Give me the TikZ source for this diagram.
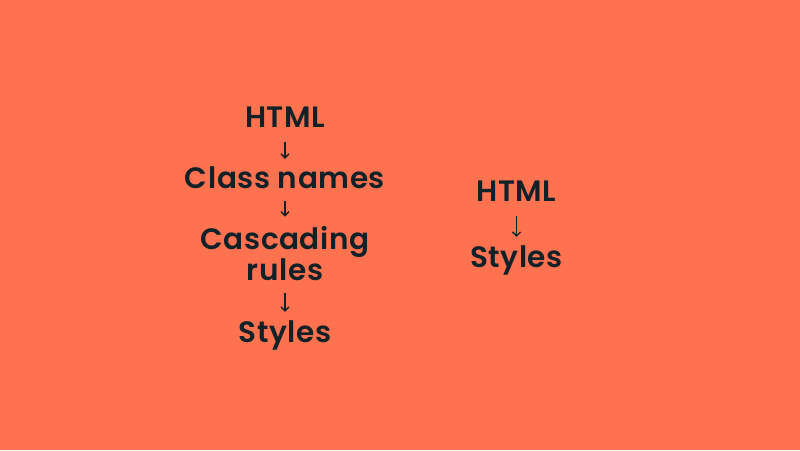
\documentclass[tikz,border=0pt]{standalone}
\usepackage{fontspec}
\setmainfont{Poppins}[BoldFont={Poppins SemiBold},LetterSpace=2]
\usetikzlibrary{arrows.meta}
\definecolor{bgc}{RGB}{255,114,80}
\definecolor{txt}{RGB}{17,33,40}
\begin{document}
\begin{tikzpicture}[x=1pt,y=-1pt,
  lbl/.style={anchor=base,inner sep=0pt,text=txt,font=\fontsize{29.5}{29.5}\selectfont\bfseries,align=center},
  arr/.style={draw=txt,line width=1.4pt,-{Straight Barb[length=4pt,width=8pt,line width=1.4pt]}}]
\fill[bgc] (0,0) rectangle (800,450);
\useasboundingbox (0,0) rectangle (800,450);
\node[lbl] (h1) at (285,127.5) {HTML};
\node[lbl] (c1) at (285,188) {Class names};
\node[lbl] (r1) at (285,249) {Cascading};
\node[lbl] (r2) at (285,280.5) {rules};
\node[lbl] (s1) at (285,342) {Styles};
\node[lbl] (h2) at (516.5,201) {HTML};
\node[lbl] (s2) at (516.5,267) {Styles};
\draw[arr,shorten <=14pt,shorten >=7pt] (h1.south) -- (c1.north);
\draw[arr,shorten <=13pt,shorten >=9pt] (c1.south) -- (r1.north);
\draw[arr,shorten <=12pt,shorten >=8pt] (r2.south) -- (s1.north);
\draw[arr,shorten <=15pt,shorten >=8pt] (h2.south) -- (s2.north);
\end{tikzpicture}
\end{document}
